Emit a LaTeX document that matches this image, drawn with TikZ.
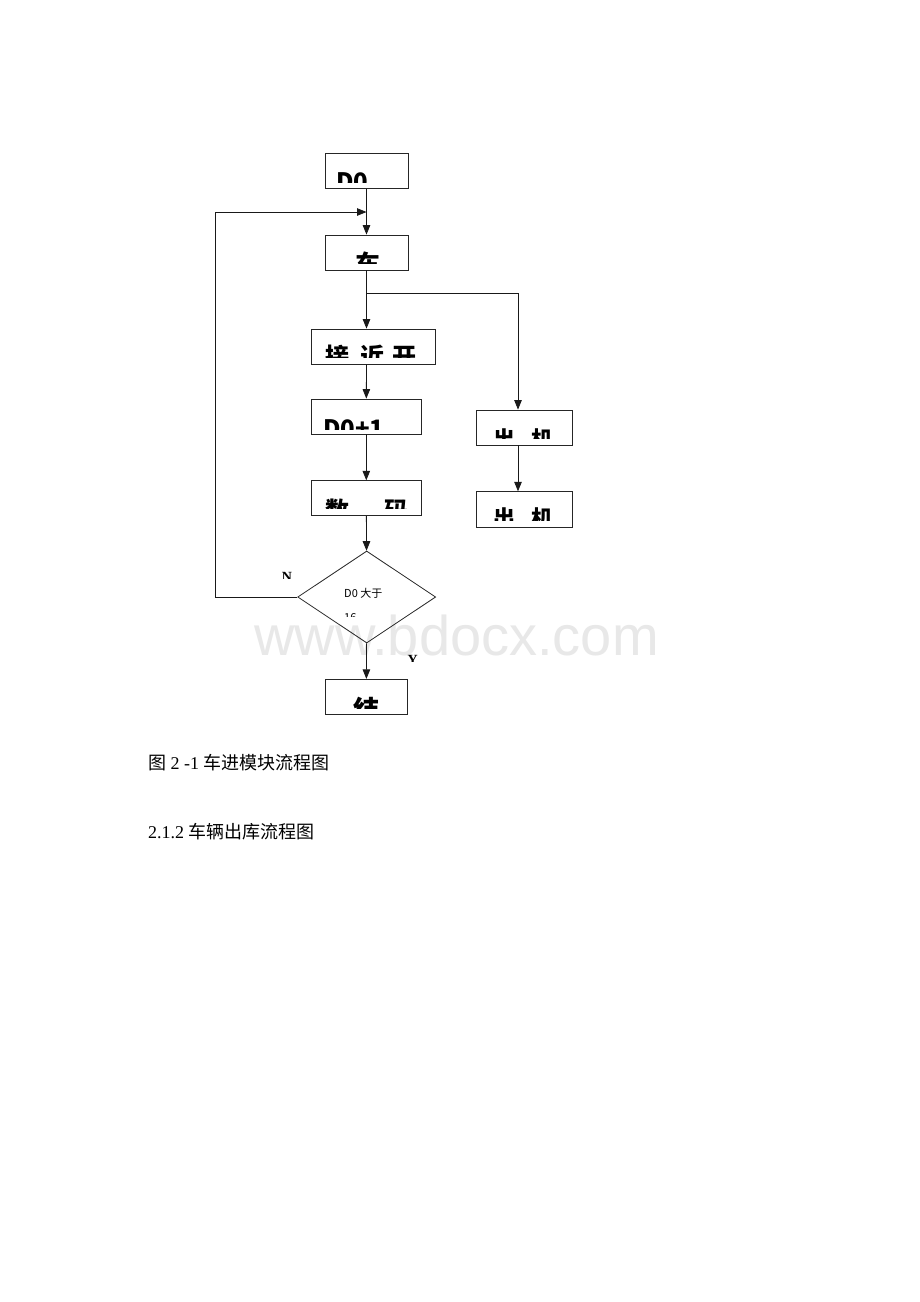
\documentclass[tikz,border=0pt]{standalone}
\usepackage{fontspec}
\setmainfont{Liberation Serif}
\newfontfamily\cjk{Noto Sans CJK SC}
\newfontfamily\wmfont{Liberation Sans}
\usetikzlibrary{arrows.meta,shapes.geometric}
\newcommand\cliptxt[6]{% box, inset, x, y, size, content
  \begin{scope}
    \clip (#1.north west) rectangle ([yshift=#2pt]#1.south east);
    \node[btxt, font=\cjk\bfseries\fontsize{#5}{#5}\selectfont] (#1t) at (#3,#4) {#6};
  \end{scope}}
\begin{document}
\begin{tikzpicture}[x=1pt,y=-1pt,
  box/.style={draw=black!85, line width=0.8pt, inner sep=0pt, minimum height=35pt},
  conn/.style={line width=0.8pt, draw=black!90, -{Triangle[length=9.5pt,width=7.5pt]}},
  plain/.style={line width=0.8pt, draw=black!90},
  btxt/.style={inner sep=0pt, anchor=north west},
  lbl/.style={inner sep=0pt, anchor=north west, font=\bfseries\fontsize{14}{14}\selectfont}]
\fill[white] (0,0) rectangle (920,1302);
\useasboundingbox (0,0) rectangle (920,1302);

% watermark
\node[font=\wmfont\fontsize{56}{56}\selectfont, text=black!9, anchor=base west, inner sep=0pt] (wm) at (254,655) {www.bdocx.com};

% boxes
\node[box, minimum width=83pt] (b1) at (366.5,171) {};
\node[box, minimum width=83pt] (b2) at (366.5,252.5) {};
\node[box, minimum width=124.7pt] (b3) at (373.3,346.5) {};
\node[box, minimum width=110.7pt] (b4) at (366.3,416.5) {};
\node[box, minimum width=110.7pt] (b5) at (366.3,498.2) {};
\node[box, minimum width=96.3pt] (r1) at (524.2,427.5) {};
\node[box, minimum width=96.3pt, minimum height=35.6pt] (r2) at (524.2,509.5) {};
\node[draw=black!85, line width=0.8pt, diamond, inner sep=0pt, minimum width=138pt, minimum height=92pt] (d) at (366.7,597) {};
\node[box, minimum width=82.7pt] (e) at (366.3,696.8) {};

% clipped texts
\cliptxt{b1}{6}{336}{172.7}{24}{D0}
\cliptxt{b2}{6.5}{355}{251.7}{25}{车}
\cliptxt{b3}{7}{325}{345}{24}{接\hspace{11pt}近\hspace{8pt}开}
\cliptxt{b4}{4.7}{323}{419.3}{24}{D0+1}
\cliptxt{b5}{7.4}{325}{498.3}{24}{数\hspace{35pt}码}
\cliptxt{r1}{6.7}{493}{428.3}{22}{出\hspace{16pt}机}
\cliptxt{r2}{7}{493}{507.3}{22}{出\hspace{16pt}机}
\cliptxt{e}{6}{353}{696.7}{26}{结}

% diamond text
\begin{scope}
  \clip (300,560) rectangle (430,616);
  \node[inner sep=0pt, anchor=north west, align=left, font=\cjk\fontsize{11}{24}\selectfont] (dt) at (344,588.3) {D0 大于\\16};
\end{scope}

% N / Y labels
\begin{scope}
  \clip (275,565) rectangle (300,578.5);
  \node[lbl] (nl) at (281.7,571.7) {N};
\end{scope}
\begin{scope}
  \clip (400,650) rectangle (425,661);
  \node[lbl] (yl) at (407.5,655) {Y};
\end{scope}

% connectors
\coordinate (fb) at (366.5,212);
\coordinate (lc) at (215,212);
\coordinate (br) at (366.5,293);
\coordinate (rx) at (518,293);
\draw[conn] (b1) -- (b2);
\draw[conn] (d.west) -| (lc) -- (fb);
\draw[conn] (b2.south) -- (b2.south |- b3.north);
\draw[plain] (br) -- (rx);
\draw[conn] (rx) -- (rx |- r1.north);
\draw[conn] (rx |- r1.south) -- (rx |- r2.north);
\draw[conn] (b2.south |- b3.south) -- (b4.north);
\draw[conn] (b4) -- (b5);
\draw[conn] (b5) -- (d);
\draw[conn] (d) -- (e);

% captions
\node[inner sep=0pt, anchor=base west, font=\fontsize{18}{18}\selectfont] (cap1) at (148,769) {{\cjk 图} 2 -1 {\cjk 车进模块流程图}};
\node[inner sep=0pt, anchor=base west, font=\fontsize{18}{18}\selectfont] (cap2) at (148,838) {2.1.2 {\cjk 车辆出库流程图}};
\end{tikzpicture}
\end{document}
